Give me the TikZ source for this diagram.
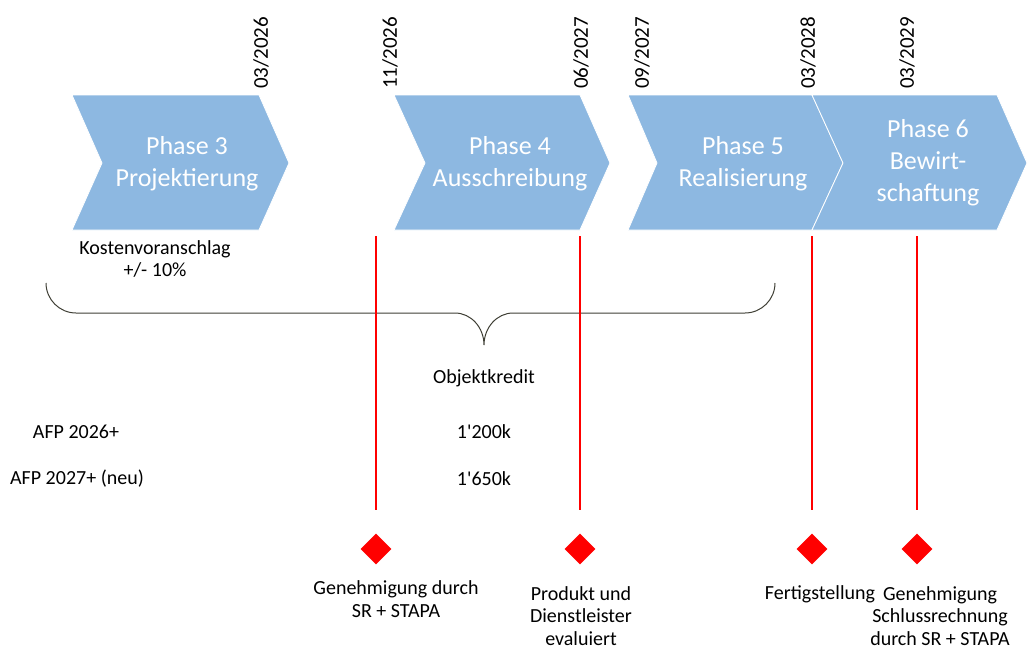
\documentclass[tikz,border=0pt]{standalone}
\usepackage{fontspec}
\setmainfont{Carlito}
\usetikzlibrary{shapes.geometric}
\definecolor{phaseblue}{HTML}{8DB8E1}
\definecolor{bracegray}{HTML}{3F3F35}

\tikzset{
	phase/.style={fill=phaseblue, draw=white, line width=0.8pt},
	phasetext/.style={text=white, align=center, inner sep=0pt, font=\fontsize{26}{32}\selectfont},
	datetext/.style={rotate=90, anchor=west, inner sep=0pt, font=\fontsize{21}{25}\selectfont},
	note/.style={align=center, inner sep=0pt, font=\fontsize{20}{22.5}\selectfont},
	milestone/.style={diamond, fill=red, inner sep=0pt, minimum width=31pt, minimum height=31pt},
	redline/.style={red, line width=2pt, shorten >=23pt},
	brace/.style={bracegray, line width=1pt},
}

\begin{document}
\begin{tikzpicture}[x=1pt, y=-1pt]
	\useasboundingbox (0,0) rectangle (1028,653);
	% phases
	\path[phase] (72,95) -- (259,95) -- (289,163) -- (259,230) -- (72,230) -- (102,163) -- cycle;
	\path[phase] (394,95) -- (580,95) -- (610,163) -- (580,230) -- (394,230) -- (425,163) -- cycle;
	\path[phase] (628,95) -- (812,95) -- (843,163) -- (812,230) -- (628,230) -- (657,163) -- cycle;
	\path[phase] (812,95) -- (997,95) -- (1027,163) -- (997,230) -- (812,230) -- (843,163) -- cycle;
	\node[phasetext] (p3) at (187,164) {Phase 3\\Projektierung};
	\node[phasetext] (p4) at (510,164) {Phase 4\\Ausschreibung};
	\node[phasetext] (p5) at (743,164) {Phase 5\\Realisierung};
	\node[phasetext] (p6) at (928,163) {Phase 6\\Bewirt-\\schaftung};
	% dates
	\node[datetext] (d2603) at (261,89) {03/2026};
	\node[datetext] (d2611) at (390,89) {11/2026};
	\node[datetext] (d2706) at (581,89) {06/2027};
	\node[datetext] (d2709) at (642,89) {09/2027};
	\node[datetext] (d2803) at (808,89) {03/2028};
	\node[datetext] (d2903) at (907,89) {03/2029};
	% costs
	\node[note] (kv) at (155,259) {Kostenvoranschlag\\+/- 10\%};
	\draw[brace] (46,283) .. controls (46,299.5) and (59.5,313) .. (76,313)
		-- (455,313) .. controls (471,313) and (484,327.5) .. (484,345)
		.. controls (484,327.5) and (497,313) .. (513,313)
		-- (745,313) .. controls (761.5,313) and (775,299.5) .. (775,283);
	\node[note] (ok) at (484,378) {Objektkredit};
	\node[note] (afp26) at (76,432) {AFP 2026+};
	\node[note] (afp27) at (77,479) {AFP 2027+ (neu)};
	\node[note] (k1200) at (484,432) {1\textquotesingle 200k};
	\node[note] (k1650) at (484,479) {1\textquotesingle 650k};
	% milestones
	\coordinate (m1) at (376,236);
	\coordinate (m2) at (580,236);
	\coordinate (m3) at (812,236);
	\coordinate (m4) at (917,236);
	\node[milestone] (g1) at (376,549) {};
	\node[milestone] (g2) at (580,549) {};
	\node[milestone] (g3) at (812,549) {};
	\node[milestone] (g4) at (917,549) {};
	\draw[redline] (m1) -- (g1);
	\draw[redline] (m2) -- (g2);
	\draw[redline] (m3) -- (g3);
	\draw[redline] (m4) -- (g4);
	\node[note] (t1) at (396,599) {Genehmigung durch\\SR + STAPA};
	\node[note] (t2) at (581,616) {Produkt und\\Dienstleister\\evaluiert};
	\node[note] (t3) at (820,594) {Fertigstellung};
	\node[note] (t4) at (940,616) {Genehmigung\\Schlussrechnung\\durch SR + STAPA};
\end{tikzpicture}
\end{document}
